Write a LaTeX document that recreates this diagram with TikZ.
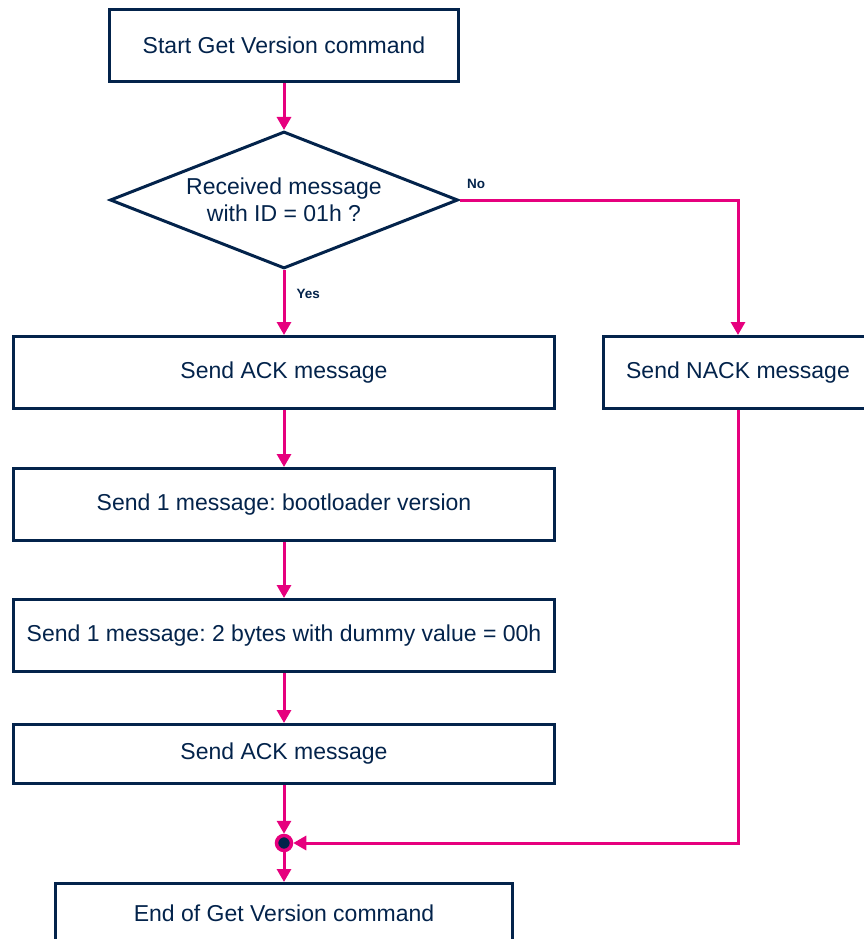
\documentclass[tikz,border=0pt]{standalone}
\usepackage{fontspec}
\setmainfont{Liberation Sans}
\usetikzlibrary{shapes.geometric,   % diamond
                arrows.meta,        % arrow tips
                positioning}
\definecolor{stnavy}{HTML}{03234B}
\definecolor{stpink}{HTML}{E6007E}
\frenchspacing

\begin{document}
\begin{tikzpicture}[x=1pt,y=-1pt
                    ]
                % define styles
\tikzset{procbox/.style={rectangle,
                       draw=stnavy,
                       line width=3pt,
                       text=stnavy,
                       font=\fontsize{23}{27}\selectfont,
                       inner sep=0,
                       minimum height=72pt,
                       },
         decision/.style={diamond,
                       draw=stnavy,
                       line width=3pt,
                       text=stnavy,
                       font=\fontsize{23}{27}\selectfont,
                       align=center,
                       inner sep=0,
                       aspect=2.5,
                       minimum width=348pt,
                       minimum height=137pt,
                       },
         flow/.style={draw=stpink,
                       line width=3pt,
                       -{Triangle[width=14pt,length=13pt]},
                       },
         branch/.style={text=stnavy,
                       inner sep=0,
                       font=\bfseries\fontsize{13.5}{16}\selectfont,
                       },
         joint/.style={circle,
                       draw=stpink,
                       fill=stnavy,
                       line width=3.5pt,
                       inner sep=0,
                       minimum size=15pt,
                       }
}

\useasboundingbox (0,0) rectangle (863,939);

% nodes
\node[procbox, minimum width=349pt] (start)  at (284,45.5)  {Start Get Version command};
\node[decision]                     (recv)   at (284,200)   {Received message\\with ID = 01h ?};
\node[procbox, minimum width=541pt] (ack)    at (284,372.5) {Send ACK message};
\node[procbox, minimum width=269pt] (nack)   at (738,372.5) {Send NACK message};
\node[procbox, minimum width=541pt] (boot)   at (284,504.5) {Send 1 message: bootloader version};
\node[procbox, minimum width=541pt] (dummy)  at (284,635.5) {Send 1 message: 2 bytes with dummy value = 00h};
\node[procbox, minimum width=541pt,
      minimum height=59pt]          (ack2)   at (284,754)   {Send ACK message};
\node[joint]                        (join)   at (284,843)   {};
\node[procbox, minimum width=457pt,
      minimum height=59pt]          (finish) at (284,913)   {End of Get Version command};

% connectors
\draw[flow] (start) -- (recv);
\draw[flow] (recv) -- node[branch, pos=0.37, right=11pt] {Yes} (ack);
\draw[flow] (recv.east) -| node[branch, pos=0.03, above=10pt] {No} (nack);
\draw[flow] (ack) -- (boot);
\draw[flow] (boot) -- (dummy);
\draw[flow] (dummy) -- (ack2);
\draw[flow] (ack2) -- (join);
\draw[flow] (nack) |- (join);
\draw[flow] (join) -- (finish);

\end{tikzpicture}
\end{document}
